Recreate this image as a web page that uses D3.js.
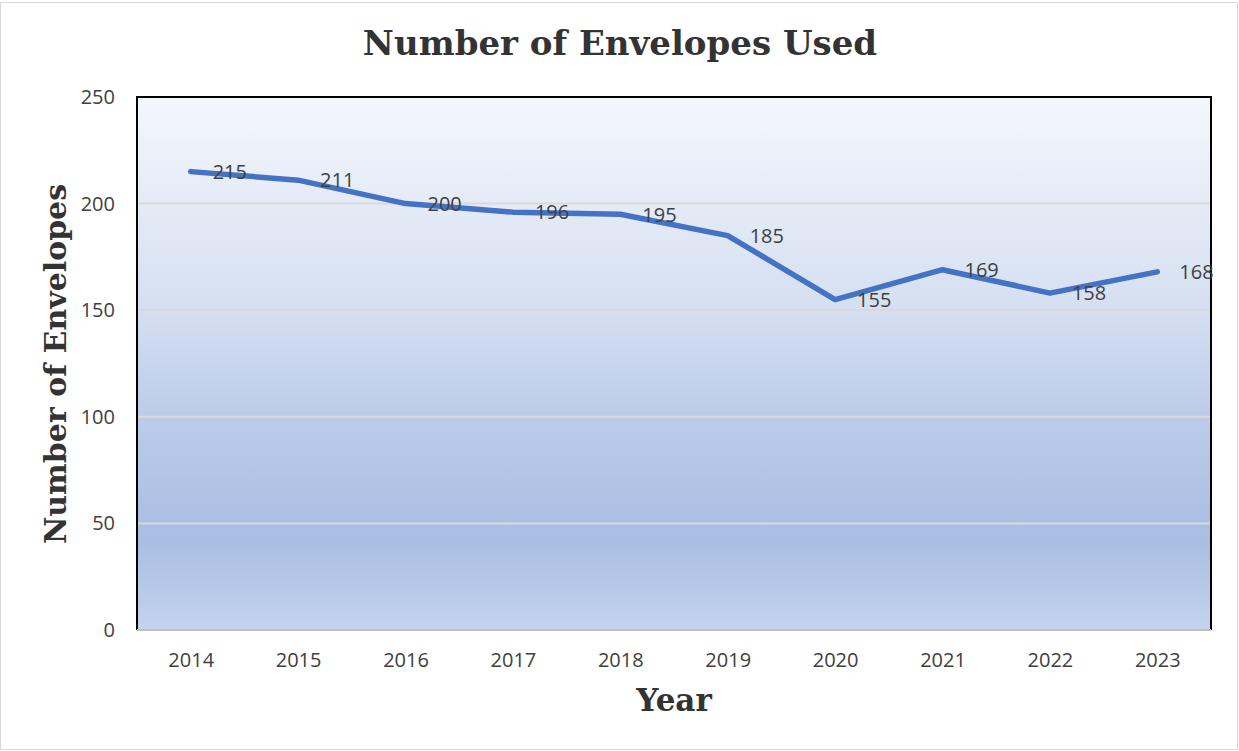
<!DOCTYPE html>
<html><head><meta charset="utf-8">
<script src="https://cdn.jsdelivr.net/npm/d3@7"></script>
<style>body{margin:0;background:#fff}svg{display:block}</style>
</head><body>
<svg id="c" width="1239" height="751"></svg>
<script>
const years = ["2014","2015","2016","2017","2018","2019","2020","2021","2022","2023"];
const envelopes = [215,211,200,196,195,185,155,169,158,168];
const yTicks = [0,50,100,150,200,250];
const title = "Number of Envelopes Used";
const xTitle = "Year";
const yTitle = "Number of Envelopes";

const svg = d3.select("#c");
const W = 1239, H = 751;
const m = {left:137, right:1211, top:97, bottom:630};
const sans = "'Open Sans', sans-serif";
const serif = "'DejaVu Serif', serif";

svg.append("rect").attr("x",0.5).attr("y",2.5).attr("width",W-2).attr("height",H-4)
  .attr("fill","#fff").attr("stroke","#d9d9d9");

const defs = svg.append("defs");
const g = defs.append("linearGradient").attr("id","bg").attr("x1",0).attr("y1",0).attr("x2",0).attr("y2",1);
[[0,"#f4f7fc"],[0.4,"#d5dff1"],[0.6,"#bccbea"],[0.83,"#a9bee3"],[1,"#c4d3ee"]].forEach(([o,c])=>
  g.append("stop").attr("offset",o).attr("stop-color",c));

const x = d3.scalePoint().domain(years).range([m.left,m.right]).padding(0.5);
const y = d3.scaleLinear().domain([0,250]).range([m.bottom,m.top]);

svg.append("rect").attr("x",m.left).attr("y",m.top).attr("width",m.right-m.left).attr("height",m.bottom-m.top)
  .attr("fill","url(#bg)");

svg.append("g").selectAll("line").data(yTicks.filter(t=>t>0&&t<250)).join("line")
  .attr("x1",m.left).attr("x2",m.right).attr("y1",d=>y(d)).attr("y2",d=>y(d))
  .attr("stroke","#d9d9d9").attr("stroke-width",2);

svg.append("path").attr("d",`M${m.left},${m.bottom}V${m.top}H${m.right}V${m.bottom}`)
  .attr("fill","none").attr("stroke","#000").attr("stroke-width",2);
svg.append("line").attr("x1",m.left).attr("x2",m.right).attr("y1",m.bottom).attr("y2",m.bottom)
  .attr("stroke","#bfbfbf").attr("stroke-width",2);

const yAx = svg.append("g").attr("transform",`translate(${m.left},0)`)
  .call(d3.axisLeft(y).tickValues(yTicks).tickSize(0).tickPadding(22));
yAx.select(".domain").remove();
yAx.selectAll("text").attr("font-family",sans).attr("font-size",20).attr("fill","#404040");

const xAx = svg.append("g").attr("transform",`translate(0,${m.bottom})`)
  .call(d3.axisBottom(x).tickSize(0).tickPadding(23));
xAx.select(".domain").remove();
xAx.selectAll("text").attr("font-family",sans).attr("font-size",20).attr("fill","#404040");

svg.append("path").datum(envelopes)
  .attr("d",d3.line().x((d,i)=>x(years[i])).y(d=>y(d)))
  .attr("fill","none").attr("stroke","#4472c4").attr("stroke-width",5.5)
  .attr("stroke-linejoin","round").attr("stroke-linecap","round");

svg.append("g").selectAll("text").data(envelopes).join("text")
  .attr("x",(d,i)=>x(years[i])+22).attr("y",d=>y(d)+2)
  .attr("dominant-baseline","middle")
  .attr("font-family",sans).attr("font-size",20).attr("fill","#404040")
  .text(d=>d);

svg.append("text").attr("x",620).attr("y",55).attr("text-anchor","middle")
  .attr("font-family",serif).attr("font-weight","bold").attr("font-size",34)
  .attr("fill","#333").text(title);
svg.append("text").attr("x",674).attr("y",711).attr("text-anchor","middle")
  .attr("font-family",serif).attr("font-weight","bold").attr("font-size",31)
  .attr("fill","#333").text(xTitle);
svg.append("text").attr("transform","translate(66,364) rotate(-90)").attr("text-anchor","middle")
  .attr("font-family",serif).attr("font-weight","bold").attr("font-size",30)
  .attr("fill","#333").text(yTitle);
</script>
</body></html>
